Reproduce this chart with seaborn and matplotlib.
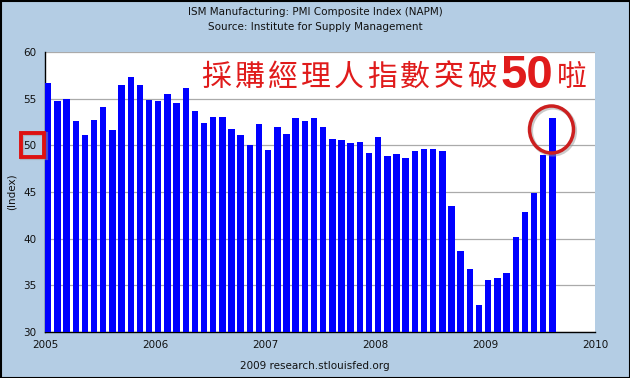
import matplotlib
matplotlib.use("Agg")
import matplotlib.pyplot as plt
import seaborn as sns
import pandas as pd
from matplotlib.patches import Ellipse, Rectangle
from matplotlib.transforms import IdentityTransform

# ---- data ----
months = pd.date_range("2005-01-01", "2009-08-01", freq="MS").strftime("%Y-%m").tolist()
pmi = [56.7, 54.8, 55.0, 52.6, 51.1, 52.7, 54.1, 51.6, 56.5, 57.3, 56.5, 54.9,
       54.8, 55.5, 54.5, 56.1, 53.7, 52.4, 53.0, 53.0, 51.8, 51.1, 50.0, 52.3,
       49.5, 52.0, 51.2, 52.9, 52.6, 52.9, 52.0, 50.7, 50.6, 50.2, 50.4, 49.2,
       50.9, 48.9, 49.1, 48.6, 49.4, 49.6, 49.6, 49.4, 43.5, 38.7, 36.7, 32.9,
       35.6, 35.8, 36.3, 40.2, 42.9, 44.9, 49.0, 52.9]
year_labels = ["2005", "2006", "2007", "2008", "2009", "2010"]
y_ticks = [30, 35, 40, 45, 50, 55, 60]

title1 = "ISM Manufacturing: PMI Composite Index (NAPM)"
title2 = "Source: Institute for Supply Management"
footer = "2009 research.stlouisfed.org"
ylabel = "(Index)"
note_text = "採購經理人指數突破"
note_num = "50"
note_end = "啦"

W, H = 630, 378
BG = "#B4CDE4"

sns.set_theme(style="white")
plt.rcParams["font.family"] = ["DejaVu Sans", "Noto Sans CJK TC"]

fig = plt.figure(figsize=(W / 100, H / 100), dpi=100, facecolor=BG)
ax = fig.add_axes([45 / W, 1 - 332 / H, 550 / W, 280 / H])
ax.set_facecolor("white")

df = pd.DataFrame({"month": months, "pmi": pmi})
sns.barplot(data=df, x="month", y="pmi", color="#0000FF", saturation=1,
            width=0.7, linewidth=0, ax=ax, zorder=3)

ax.set_xlim(-0.35, 59.65)
ax.set_ylim(30, 60)
ax.set_xticks([12 * k - 0.35 for k in range(len(year_labels))])
ax.set_xticklabels(year_labels, fontsize=7.5, color="#111111")
ax.set_yticks(y_ticks)
ax.set_yticklabels([str(v) for v in y_ticks], fontsize=7.5, color="#111111")
ax.tick_params(axis="x", direction="in", length=3, width=0.8, pad=6, color="black")
ax.tick_params(axis="y", direction="out", length=0, pad=6)
ax.set_xlabel("")
ax.set_ylabel(ylabel, fontsize=7.5, color="#111111", labelpad=5)
ax.yaxis.grid(True, color="#AAAAAA", lw=0.9, zorder=0)
ax.xaxis.grid(False)
ax.set_axisbelow(True)
for s in ["top", "right"]:
    ax.spines[s].set_visible(False)
for s in ["left", "bottom"]:
    ax.spines[s].set_color("black")
    ax.spines[s].set_linewidth(1)

fig.text(0.5, 1 - 12 / H, title1, ha="center", va="center", fontsize=7.5, color="#111111")
fig.text(0.5, 1 - 27 / H, title2, ha="center", va="center", fontsize=7.5, color="#111111")
fig.text(0.5, 1 - 366 / H, footer, ha="center", va="center", fontsize=7.5, color="#111111")

# annotation text (characters spaced like the reference)
red = "#E01B1B"
cjk = ["Noto Sans CJK TC", "DejaVu Sans"]
for i, ch in enumerate(note_text):
    fig.text((216 + 33.2 * i) / W, 1 - 77 / H, ch, ha="center", va="center",
             fontsize=21.5, color=red, family=cjk)
fig.text(501 / W, 1 - 88 / H, note_num, ha="left", va="baseline",
         fontsize=34, fontweight="bold", color=red, family=["Liberation Sans", "DejaVu Sans"])
fig.text(572 / W, 1 - 77 / H, note_end, ha="center", va="center",
         fontsize=21.5, color=red, family=cjk)

ident = IdentityTransform()
# circle around last bar (with soft shadow)
fig.add_artist(Ellipse((553, H - 131), 44, 47, transform=ident, fill=False,
                       ec="#999999", lw=3, alpha=0.5))
fig.add_artist(Ellipse((551.5, H - 129.5), 44, 47, transform=ident, fill=False,
                       ec="#CC1F1F", lw=2.5))
# box around "50" tick label
fig.add_artist(Rectangle((22, H - 158), 24, 24, transform=ident, fill=False,
                         ec="#999999", lw=3, alpha=0.5))
fig.add_artist(Rectangle((20.5, H - 156.5), 23.5, 23.5, transform=ident, fill=False,
                         ec="#DD1111", lw=2.8))
# outer frame
fig.add_artist(Rectangle((0.5, 0.5), W - 1, H - 1, transform=ident, fill=False,
                         ec="black", lw=1.5))

fig.savefig("out.png", dpi=100, facecolor=BG)
